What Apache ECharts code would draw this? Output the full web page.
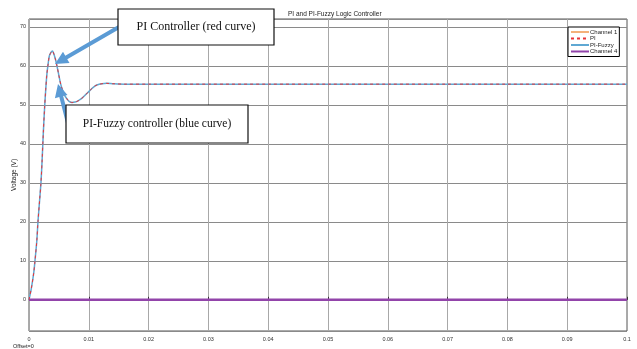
<!DOCTYPE html>
<html>
<head>
<meta charset="utf-8">
<script src="https://cdn.jsdelivr.net/npm/echarts@6/dist/echarts.min.js"></script>
<style>
html,body{margin:0;padding:0;background:#fff;}
#c{width:637px;height:349px;}
</style>
</head>
<body>
<div id="c"></div>
<script>
// Time (s)
var timeS = [0, 0.0004, 0.0008, 0.001, 0.0013, 0.0015, 0.0018, 0.002, 0.0022, 0.0024, 0.0026, 0.0028, 0.003, 0.0032, 0.0034, 0.0037, 0.0039, 0.0041, 0.0044, 0.0047, 0.005, 0.0053, 0.0056, 0.0059, 0.0063, 0.0067, 0.0072, 0.0077, 0.0082, 0.0087, 0.0092, 0.0098, 0.0104, 0.011, 0.0116, 0.0122, 0.013, 0.014, 0.016, 0.02, 0.03, 0.04, 0.05, 0.06, 0.07, 0.08, 0.09, 0.1];
// PI controller output voltage (V)
var piVolt = [0, 3, 7, 10, 15, 20, 26, 30, 36, 43, 49, 54, 58, 60.5, 62.5, 63.5, 63.8, 63.3, 61.8, 59.8, 57.5, 55.3, 53.8, 52.6, 51.6, 50.9, 50.6, 50.7, 51.0, 51.5, 52.2, 53.1, 54.0, 54.8, 55.2, 55.4, 55.5, 55.4, 55.3, 55.3, 55.3, 55.3, 55.3, 55.3, 55.3, 55.3, 55.3, 55.3];
// PI-Fuzzy controller output voltage (V)
var fuzzyVolt = [0, 3, 7, 10, 15, 20, 26, 30, 36, 43, 49, 54, 58, 60.5, 62.5, 63.5, 63.8, 63.3, 61.8, 59.8, 57.5, 55.3, 53.8, 52.6, 51.6, 50.9, 50.6, 50.7, 51.0, 51.5, 52.2, 53.1, 54.0, 54.8, 55.2, 55.4, 55.5, 55.4, 55.3, 55.3, 55.3, 55.3, 55.3, 55.3, 55.3, 55.3, 55.3, 55.3];
// Channel 4 (V)
var ch4Time = [0, 0.1];
var ch4Volt = [0, 0];
var seriesNames = ['Channel 1', 'PI', 'PI-Fuzzy', 'Channel 4'];
var titleText = 'PI and PI-Fuzzy Logic Controller';
var yName = 'Voltage (V)';
var ann1 = 'PI Controller (red curve)';
var ann2 = 'PI-Fuzzy controller (blue curve)';

function pairs(xs, ys){ return xs.map(function(x,i){ return [x, ys[i]]; }); }
function arrow(x1,y1,x2,y2,sw,hw,hl){
  var dx=x2-x1, dy=y2-y1, L=Math.sqrt(dx*dx+dy*dy), ux=dx/L, uy=dy/L, px=-uy, py=ux;
  var bx=x2-ux*hl, by=y2-uy*hl;
  return [[x1+px*sw/2,y1+py*sw/2],[bx+px*sw/2,by+py*sw/2],[bx+px*hw/2,by+py*hw/2],[x2,y2],
          [bx-px*hw/2,by-py*hw/2],[bx-px*sw/2,by-py*sw/2],[x1-px*sw/2,y1-py*sw/2]];
}

var tickFont = 'Liberation Sans Narrow, Liberation Sans';
var chart = echarts.init(document.getElementById('c'), null, {renderer:'canvas'});
var arrowColor = '#5b9bd5';
chart.setOption({
  animation:false,
  backgroundColor:'#fff',
  title:{text:titleText,left:283,top:6,textStyle:{fontSize:6.5,fontWeight:'normal',color:'#222',fontFamily:tickFont}},
  grid:{left:29,right:10,top:19,bottom:18,show:true,borderColor:'#555',borderWidth:1,outerBoundsMode:'none',containLabel:false},
  legend:{
    data:seriesNames, orient:'vertical', left:568, top:27,
    itemWidth:18, itemHeight:6, itemGap:0.5, padding:[2,2,2,2],
    borderColor:'#000', borderWidth:1, backgroundColor:'#fff',
    itemStyle:{opacity:0},
    textStyle:{fontSize:6,color:'#222',fontFamily:tickFont,padding:[0,0,0,-4]}
  },
  xAxis:{
    type:'value', min:0, max:0.1, interval:0.01,
    axisLine:{show:false},
    axisTick:{show:true,inside:true,length:3,lineStyle:{color:'#333'}},
    axisLabel:{fontSize:5.5,color:'#333',margin:5,fontFamily:tickFont,
      formatter:function(v){ return String(+v.toFixed(3)); }},
    splitLine:{show:true,lineStyle:{color:'#a8a8a8',width:1}}
  },
  yAxis:{
    type:'value', min:-8, max:72, splitNumber:8,
    name:yName, nameLocation:'middle', nameGap:11, nameMoveOverlap:false,
    nameTextStyle:{fontSize:6.5,color:'#222',fontFamily:tickFont},
    axisLine:{show:false},
    axisTick:{show:false},
    axisLabel:{fontSize:5.5,color:'#333',margin:3,fontFamily:tickFont,
      formatter:function(v){ return (Math.abs(v%10)<1e-9 && v>=0) ? String(v) : ''; }},
    splitLine:{show:true,lineStyle:{color:'#8a8a8a',width:1}}
  },
  series:[
    {name:seriesNames[0],type:'line',data:[],symbol:'none',itemStyle:{color:'#f4b17a'},lineStyle:{color:'#f4b17a',width:1.5}},
    {name:seriesNames[1],type:'line',data:pairs(timeS,piVolt),symbol:'none',smooth:0.3,z:4,itemStyle:{color:'#e8353a'},lineStyle:{color:'#e8353a',width:1,type:[3,3]}},
    {name:seriesNames[2],type:'line',data:pairs(timeS,fuzzyVolt),symbol:'none',smooth:0.3,z:3,itemStyle:{color:'#5fa8d3'},lineStyle:{color:'#5fa8d3',width:1.5}},
    {name:seriesNames[3],type:'line',data:pairs(ch4Time,ch4Volt),symbol:'none',z:3,itemStyle:{color:'#8e3fa6'},lineStyle:{color:'#9244aa',width:2.5}}
  ],
  graphic:[
    {type:'polygon',z:100,shape:{points:arrow(119,27,55,64,4,13,13)},style:{fill:arrowColor}},
    {type:'polygon',z:100,shape:{points:arrow(68,123,58,84,4,13,13)},style:{fill:arrowColor}},
    {type:'rect',z:101,shape:{x:118,y:9,width:156,height:36},style:{fill:'#fff',stroke:'#111',lineWidth:1.2}},
    {type:'text',z:102,style:{text:ann1,x:196,y:27,align:'center',verticalAlign:'middle',fontSize:12,fontFamily:'Liberation Serif',fill:'#111'}},
    {type:'rect',z:101,shape:{x:66,y:105,width:182,height:38},style:{fill:'#fff',stroke:'#111',lineWidth:1.2}},
    {type:'text',z:102,style:{text:ann2,x:157,y:124,align:'center',verticalAlign:'middle',fontSize:11.5,fontFamily:'Liberation Serif',fill:'#111'}},
    {type:'text',z:102,style:{text:'Offset=0',x:13,y:346,align:'left',verticalAlign:'middle',fontSize:5.5,fontFamily:tickFont,fill:'#222'}}
  ]
});
</script>
</body>
</html>
